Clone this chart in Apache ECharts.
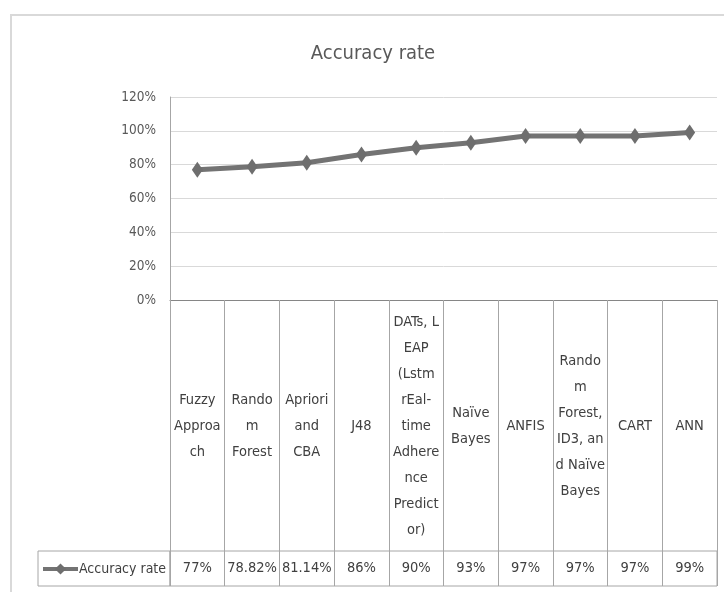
<!DOCTYPE html>
<html>
<head>
<meta charset="utf-8">
<script src="https://cdn.jsdelivr.net/npm/echarts@6/dist/echarts.min.js"></script>
<style>html,body{margin:0;padding:0;background:#fff}#c{width:724px;height:592px}</style>
</head>
<body>
<div id="c"></div>
<script>
var chartTitle = 'Accuracy rate';
var seriesName = 'Accuracy rate';
var categories = [
  'Fuzzy\nApproa\nch',
  'Rando\nm\nForest',
  'Apriori\nand\nCBA',
  'J48',
  'DATs, L\nEAP\n(Lstm\nrEal-\ntime\nAdhere\nnce\nPredict\nor)',
  'Naïve\nBayes',
  'ANFIS',
  'Rando\nm\nForest,\nID3, an\nd Naïve\nBayes',
  'CART',
  'ANN'
];
var accuracy = [0.77, 0.7882, 0.8114, 0.86, 0.90, 0.93, 0.97, 0.97, 0.97, 0.99];
var yTicks = [0, 0.2, 0.4, 0.6, 0.8, 1.0, 1.2];

var FONT = '"Liberation Sans Narrow", "DejaVu Sans Condensed", "Roboto", sans-serif';
function pct(v) { return (Math.round(v * 10000) / 100) + '%'; }

var chart = echarts.init(document.getElementById('c'), null, {renderer: 'canvas'});
chart.setOption({
  backgroundColor: '#ffffff',
  animation: false,
  textStyle: {fontFamily: FONT},
  title: {
    text: chartTitle, left: 368, top: 39, textAlign: 'center',
    textStyle: {fontFamily: FONT, fontSize: 20, fontWeight: 'normal', color: '#595959'}
  },
  graphic: [{
    type: 'rect', silent: true, z: -10,
    shape: {x: 11, y: 15, width: 760, height: 640},
    style: {fill: 'none', stroke: '#d9d9d9', lineWidth: 2}
  }],
  legend: {
    left: 36, top: 557, itemWidth: 35, itemHeight: 14, itemGap: 2,
    data: [seriesName],
    lineStyle: {width: 4, color: '#737373'},
    textStyle: {fontFamily: FONT, fontSize: 14, color: '#404040', padding: [0, 0, 0, -4]}
  },
  grid: [
    {left: 170, right: 7, top: 97, bottom: 292, show: false},
    {left: 170, right: 7, top: 551, height: 35, show: true, borderColor: '#a6a6a6', borderWidth: 1, backgroundColor: 'transparent'},
    {left: 38, width: 132, top: 551, height: 35, show: true, borderColor: '#a6a6a6', borderWidth: 1, backgroundColor: 'transparent'}
  ],
  xAxis: [
    {
      gridIndex: 0, type: 'category', data: categories, boundaryGap: true,
      axisLine: {show: true, lineStyle: {color: '#868686', width: 1}},
      axisTick: {show: true, interval: 0, length: 286, lineStyle: {color: '#a6a6a6', width: 1}},
      axisLabel: {
        interval: 0, margin: 126, verticalAlign: 'middle', align: 'center',
        fontFamily: FONT, fontSize: 14.5, lineHeight: 26, color: '#404040'
      },
      splitLine: {show: false}
    },
    {
      gridIndex: 1, type: 'category', data: accuracy.map(pct), position: 'top',
      axisLine: {show: false}, axisTick: {show: false},
      axisLabel: {
        inside: true, interval: 0, margin: 17, verticalAlign: 'middle',
        fontFamily: FONT, fontSize: 14.5, color: '#404040'
      }
    },
    {gridIndex: 2, type: 'category', data: [''], show: false}
  ],
  yAxis: [
    {
      gridIndex: 0, type: 'value', min: 0, max: 1.2, interval: 0.2,
      axisLine: {show: true, lineStyle: {color: '#a6a6a6'}},
      axisTick: {show: false},
      axisLabel: {
        margin: 14, fontFamily: FONT, fontSize: 13.5, color: '#595959',
        formatter: function (v) { return Math.round(v * 100) + '%'; }
      },
      splitLine: {show: true, lineStyle: {color: '#d9d9d9', width: 1}}
    },
    {gridIndex: 1, type: 'value', show: false},
    {gridIndex: 2, type: 'value', show: false}
  ],
  series: [{
    name: seriesName, type: 'line', xAxisIndex: 0, yAxisIndex: 0,
    data: accuracy,
    symbol: 'diamond', symbolSize: [11, 16],
    lineStyle: {color: '#737373', width: 5},
    itemStyle: {color: '#6e6e6e'},
    z: 5
  }]
});
</script>
</body>
</html>
